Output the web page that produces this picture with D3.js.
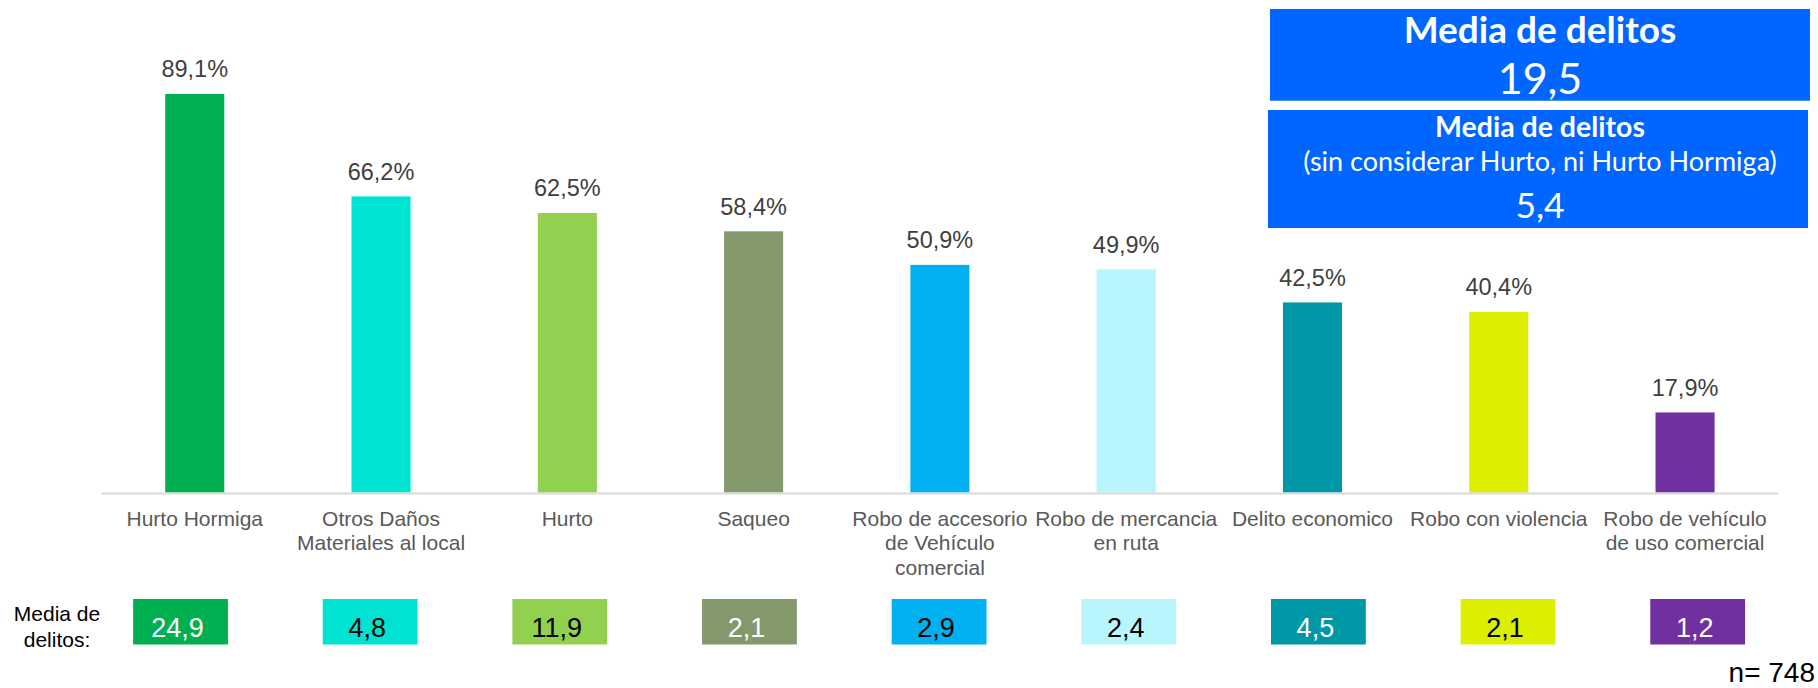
<!DOCTYPE html>
<html><head><meta charset="utf-8">
<script src="https://cdn.jsdelivr.net/npm/d3@7"></script>
<style>
html,body{margin:0;padding:0;background:#fff;}
svg{display:block;}
</style></head>
<body>
<svg id="chart" width="1818" height="688"></svg>
<script>
// ---- data ----
const categories = [
  ["Hurto Hormiga"],
  ["Otros Daños", "Materiales al local"],
  ["Hurto"],
  ["Saqueo"],
  ["Robo de accesorio", "de Vehículo", "comercial"],
  ["Robo de mercancia", "en ruta"],
  ["Delito economico"],
  ["Robo con violencia"],
  ["Robo de vehículo", "de uso comercial"]
];
const percentages = [89.1, 66.2, 62.5, 58.4, 50.9, 49.9, 42.5, 40.4, 17.9];
const mediaDelitos = [24.9, 4.8, 11.9, 2.1, 2.9, 2.4, 4.5, 2.1, 1.2];
const colors = ["#00AF50","#00E3D0","#92D050","#83996B","#00B0F0","#B8F5FD","#0097A7","#DCEF00","#7030A0"];
const mediaTextColors = ["#fff","#000","#000","#fff","#000","#000","#fff","#000","#fff"];
const mediaTotal = "19,5";
const mediaSin = "5,4";
const nLabel = "n= 748";

const fmt = v => v.toFixed(1).replace(".", ",");

const svg = d3.select("#chart");
const ARIAL = "'Liberation Sans', Arial, sans-serif";
const LATO = "Lato, sans-serif";

function txt(x, y, str, size, color, opts = {}) {
  return svg.append("text")
    .attr("x", x).attr("y", y)
    .attr("text-anchor", opts.anchor || "middle")
    .attr("font-family", opts.family || ARIAL)
    .attr("font-size", size)
    .attr("font-weight", opts.weight || "normal")
    .attr("fill", color)
    .text(str);
}

// ---- scales ----
const idx = d3.range(categories.length);
const x = d3.scaleBand().domain(idx).range([101.6, 1778.2]).paddingInner(0.683).paddingOuter(0.683 / 2);
const cx = i => x(i) + x.bandwidth() / 2;
const xm = d3.scaleBand().domain(idx).range([85.7, 1792.5]).paddingInner(0.5).paddingOuter(0.25);
const y = d3.scaleLinear().domain([0, 100]).range([492.5, 45.25]);

// ---- bars ----
svg.append("g").selectAll("rect").data(percentages).join("rect")
  .attr("x", (d, i) => x(i)).attr("width", x.bandwidth())
  .attr("y", d => y(d)).attr("height", d => y(0) - y(d))
  .attr("fill", (d, i) => colors[i]);

// baseline axis
svg.append("line").attr("x1", x.range()[0]).attr("x2", x.range()[1])
  .attr("y1", y(0) + 1).attr("y2", y(0) + 1)
  .attr("stroke", "#d9d9d9").attr("stroke-width", 2);

// data labels
percentages.forEach((d, i) => txt(cx(i), y(d) - 16.7, fmt(d) + "%", 23.5, "#404040"));

// category labels
categories.forEach((lines, i) => {
  lines.forEach((ln, k) => txt(cx(i), 525.5 + k * 24.5, ln, 21, "#595959"));
});

// Media de delitos row
txt(57, 621, "Media de", 21, "#000");
txt(57, 646.7, "delitos:", 21, "#000");
const boxTop = 599, boxH = 45.5;
mediaDelitos.forEach((d, i) => {
  const c = xm(i) + xm.bandwidth() / 2;
  svg.append("rect").attr("x", xm(i)).attr("y", boxTop)
    .attr("width", xm.bandwidth()).attr("height", boxH).attr("fill", colors[i]);
  txt(c - 3, 636.7, fmt(d), 27, mediaTextColors[i]);
});

// n label
txt(1815, 681.5, nLabel, 28, "#000", { anchor: "end" });

// ---- blue summary boxes ----
const blue = "#0066FF";
const bxL = 1270, bxR = 1810, bxC = 1540;
svg.append("rect").attr("x", bxL).attr("y", 9).attr("width", bxR - bxL).attr("height", 91.7).attr("fill", blue);
svg.append("rect").attr("x", bxL - 2).attr("y", 110).attr("width", bxR - bxL).attr("height", 118).attr("fill", blue);
txt(bxC, 43.3, "Media de delitos", 37, "#fff", { family: LATO, weight: "bold" });
txt(bxC, 94.3, mediaTotal, 43, "#fff", { family: LATO });
txt(bxC, 137.3, "Media de delitos", 28.5, "#fff", { family: LATO, weight: "bold" });
txt(bxC, 170.7, "(sin considerar Hurto, ni Hurto Hormiga)", 27, "#fff", { family: LATO });
txt(bxC, 218.3, mediaSin, 35.5, "#fff", { family: LATO });
</script>
</body></html>
